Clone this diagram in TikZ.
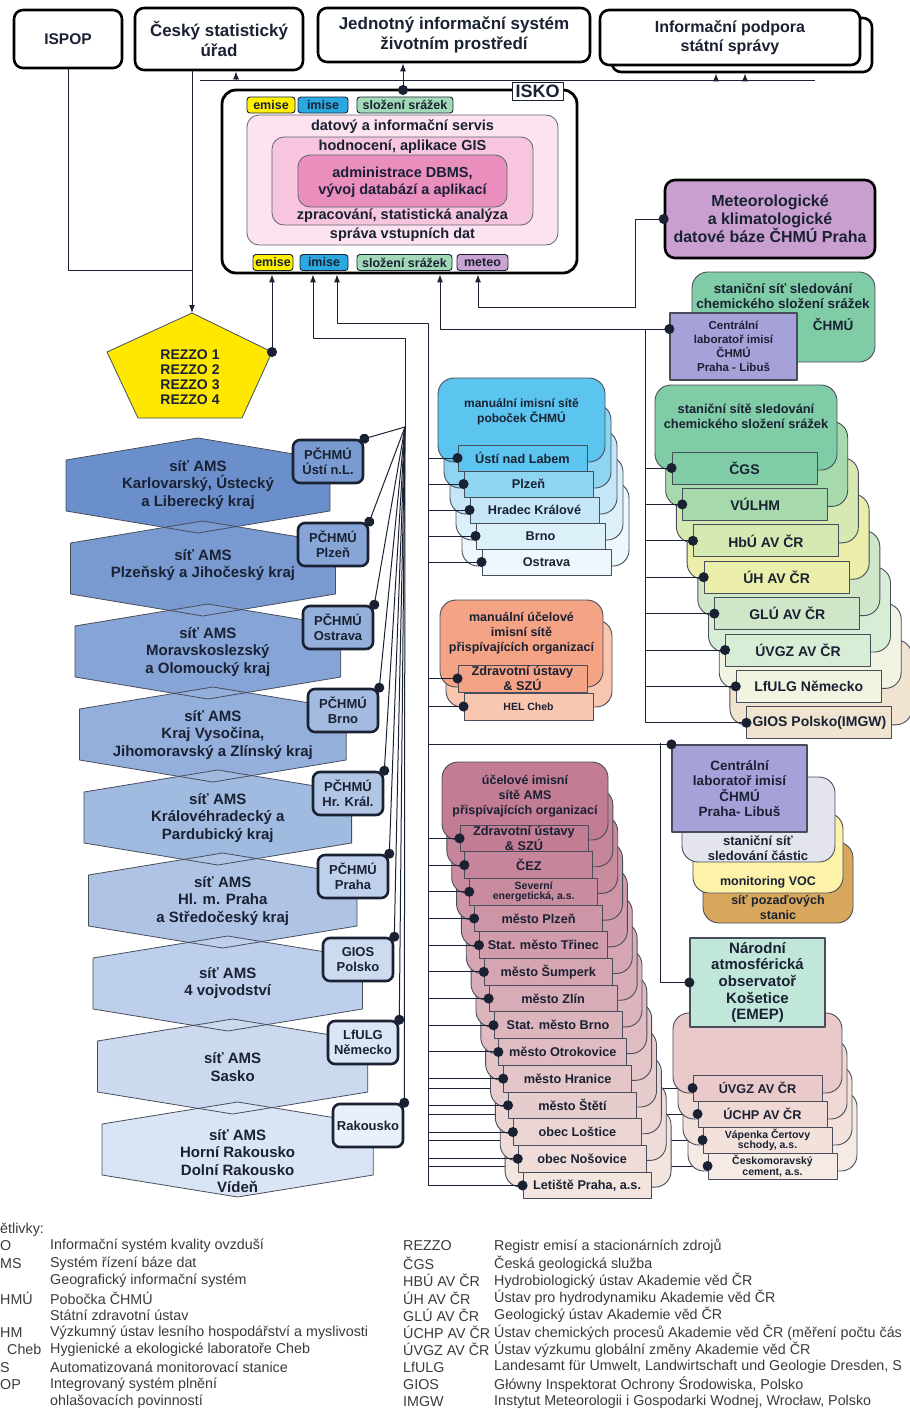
\documentclass[tikz,border=0pt]{standalone}
\usepackage{fontspec}
\setmainfont{Liberation Sans}
\newfontfamily\boldsans{Liberation Sans}
\usetikzlibrary{arrows.meta,backgrounds}
\newcommand\nbf[2]{\boldsans\bfseries\fontsize{#1}{#2}\selectfont}

\definecolor{ink}{HTML}{1A2133}
\definecolor{tagyel}{HTML}{FFF100}
\definecolor{tagblu}{HTML}{29A9E0}
\definecolor{taggrn}{HTML}{A2DAB8}
\definecolor{tagvio}{HTML}{C9A3D1}
\definecolor{pinkA}{HTML}{FDE3EF}
\definecolor{pinkB}{HTML}{F7C5DD}
\definecolor{pinkC}{HTML}{EA8EBE}
\definecolor{rezzo}{HTML}{FFE800}
\definecolor{hxD}{HTML}{6A8FCB}
\definecolor{hxL}{HTML}{E8F0FA}
\definecolor{blA}{HTML}{5BC5EF}
\definecolor{blB}{HTML}{8ED5F2}
\definecolor{blC}{HTML}{C4E6F6}
\definecolor{blD}{HTML}{DCF0FA}
\definecolor{blE}{HTML}{EEF7FC}
\definecolor{saA}{HTML}{F5A385}
\definecolor{saB}{HTML}{F9C6B0}
\definecolor{grA}{HTML}{80CCA6}
\definecolor{grB}{HTML}{A6DAAC}
\definecolor{grC}{HTML}{D7E9B2}
\definecolor{grD}{HTML}{EAEEA9}
\definecolor{grE}{HTML}{CFE7C8}
\definecolor{grF}{HTML}{D7EDD6}
\definecolor{grG}{HTML}{F0F4E0}
\definecolor{grH}{HTML}{F0E4D0}
\definecolor{muD}{HTML}{C27C94}
\definecolor{muL}{HTML}{F4E7E0}
\definecolor{lav}{HTML}{A7A1DA}
\definecolor{lilac}{HTML}{C99FD0}
\definecolor{mint}{HTML}{C0E7D9}
\definecolor{fog}{HTML}{E4E5EC}
\definecolor{voc}{HTML}{FDF3A8}
\definecolor{ochre}{HTML}{D9A75C}
\definecolor{roA}{HTML}{E9C9C9}
\definecolor{roB}{HTML}{F0D8D4}
\definecolor{roC}{HTML}{F3E2DB}
\definecolor{roD}{HTML}{F6EBE4}
\definecolor{legend}{HTML}{3A3A3A}

\tikzset{
  topbox/.style={draw=black, line width=2.6pt, rounded corners=9pt, fill=white, align=center, inner sep=0, text=ink, font=\nbf{17}{20}},
  iskobox/.style={draw=black, line width=2.8pt, rounded corners=14pt, fill=white},
  tag/.style={draw=ink, line width=0.9pt, rounded corners=3pt, inner sep=0, minimum height=16pt, text=ink, font=\nbf{12.5}{13}},
  layer/.style={draw=ink!70, line width=0.8pt, rounded corners=12pt},
  txt/.style={text=ink, align=center, inner sep=0, font=\nbf{#1}{15}},
  txt/.default=12.5,
  hexline/.style={draw=ink!80, line width=0.8pt},
  hextext/.style={text=ink, align=center, inner sep=0, font=\nbf{15}{17.5}},
  pbox/.style={draw=ink, line width=2.6pt, rounded corners=7pt, inner sep=0, minimum width=70pt, minimum height=43pt, align=center, text=ink, font=\nbf{13}{15}},
  card/.style={draw=ink!80, line width=0.9pt, rounded corners=16pt},
  item/.style={draw=ink!80, line width=0.9pt, inner sep=0, align=center, text=ink, font=\nbf{12.7}{13.5}},
  small/.style={font=\nbf{10.5}{10.5}},
  conn/.style={draw=ink, line width=1pt},
  dotend/.style={-{Circle[length=10pt]}, shorten >=-5pt},
  dotarr/.style={{Circle[length=10pt]}->, shorten <=-5pt},
  legtxt/.style={anchor=west, inner sep=0, text=legend, font=\fontsize{14.3}{16}\selectfont}
}

\begin{document}
\begin{tikzpicture}[x=1pt, y=-1pt, line join=round, >={Latex[length=8pt,width=6pt]}]
\useasboundingbox (0,0) rectangle (910,1416);
% body spojnic
\coordinate (jn) at (192,270);
\coordinate (rzT) at (192,313);
\coordinate (rzR) at (272,352);
\coordinate (fan) at (405,427);
\coordinate (fanA) at (313,338);
\coordinate (busB) at (428,323);
\coordinate (busBt) at (337,323);
\coordinate (busN) at (660,743);
\coordinate (rA) at (440,329);
\coordinate (rB) at (645,329);
\coordinate (mA) at (478,307);
\coordinate (mB) at (635,307);
\coordinate (iskoTop) at (403,90);
\coordinate (hl) at (200,80);
\coordinate (hr) at (815,80);
\coordinate (a1) at (236,80);
\coordinate (a3) at (716,80);
\coordinate (a4) at (745,80);

% horni systemy
\node[topbox, minimum width=108pt, minimum height=58pt, font=\nbf{15.5}{18}] (ispop) at (68,39) {ISPOP};
\node[topbox, minimum width=168pt, minimum height=62pt] (csu) at (219,39) {Český statistický\\úřad};
\node[topbox, minimum width=272pt, minimum height=54pt] (jis) at (454,35) {Jednotný informační systém\\životním prostředí};
\node[topbox, minimum width=260pt, minimum height=54pt] (podB) at (742,45) {};
\node[topbox, minimum width=260pt, minimum height=55pt, font=\nbf{16}{19}] (podA) at (730,37.5) {Informační podpora\\státní správy};

% ISKO
\node[iskobox, minimum width=355pt, minimum height=183pt] (isko) at (399.5,181.5) {};
\node[tag, fill=white, rounded corners=0pt, minimum width=51pt, minimum height=18pt, font=\nbf{18}{18}] (iskolbl) at (537.5,91.5) {ISKO};
\draw[layer, fill=pinkA] (247,115) rectangle (558,245);
\draw[layer, fill=pinkB] (272,137) rectangle (533,225);
\draw[layer, fill=pinkC] (298,155) rectangle (507,207);
\node[txt=14.5] (serv) at (402.5,126.5) {datový a informační servis};
\node[txt=14.5] (hodn) at (402.5,147) {hodnocení, aplikace GIS};
\node[txt=14.5, font=\nbf{14.5}{16.5}] (dbms) at (402.5,182) {administrace DBMS,\\vývoj databází a aplikací};
\node[txt=14.5] (zprac) at (402.5,216) {zpracování, statistická analýza};
\node[txt=14.5] (sprava) at (402.5,235) {správa vstupních dat};
\foreach \nm/\xx/\ww/\cl/\txt in {te/271/48/tagyel/emise, ti/323/50/tagblu/imise, ts/405/96/taggrn/složení srážek}
  \node[tag, fill=\cl, minimum width=\ww pt] (\nm) at (\xx,105) {\txt};
\foreach \nm/\xx/\ww/\cl/\txt in {be/273/40/tagyel/emise, bi/324/48/tagblu/imise, bs/404.5/95/taggrn/složení srážek, bm/482.5/51/tagvio/meteo}
  \node[tag, fill=\cl, minimum width=\ww pt] (\nm) at (\xx,262.5) {\txt};

% REZZO
\draw[hexline, fill=rezzo] (rzT) -- (107,352) -- (138,418) -- (242,418) -- (rzR) -- cycle;
\node[txt=14] (rezzotxt) at (190,377) {REZZO 1\\REZZO 2\\REZZO 3\\REZZO 4};

% site AMS
\foreach \i in {1,...,9}{
  \pgfmathsetmacro\hL{66+4.5*(\i-1)}
  \pgfmathsetmacro\hR{330+5.4*(\i-1)}
  \pgfmathsetmacro\hT{438+83*(\i-1)}
  \pgfmathsetmacro\hM{(\hL+\hR)/2}
  \pgfmathtruncatemacro\pc{100-11*(\i-1)}
  \fill[hxD!\pc!hxL] (\hM,\hT) -- (\hR,\hT+22) -- (\hR,\hT+73) -- (\hM,\hT+95) -- (\hL,\hT+73) -- (\hL,\hT+22) -- cycle;
}
\foreach \i/\txt/\ptx/\ty in {
  1/{síť AMS\\Karlovarský, Ústecký\\a Liberecký kraj}/{PČHMÚ\\Ústí n.L.}/485,
  2/{síť AMS\\Plzeňský a Jihočeský kraj}/{PČHMÚ\\Plzeň}/565,
  3/{síť AMS\\Moravskoslezský\\a Olomoucký kraj}/{PČHMÚ\\Ostrava}/652,
  4/{síť AMS\\Kraj Vysočina,\\Jihomoravský a Zlínský kraj}/{PČHMÚ\\Brno}/735,
  5/{síť AMS\\Královéhradecký a\\Pardubický kraj}/{PČHMÚ\\Hr. Král.}/818,
  6/{síť AMS\\Hl. m. Praha\\a Středočeský kraj}/{PČHMÚ\\Praha}/901,
  7/{síť AMS\\4 vojvodství}/{GIOS\\Polsko}/983,
  8/{síť AMS\\Sasko}/{LfULG\\Německo}/1067,
  9/{síť AMS\\Horní Rakousko\\Dolní Rakousko\\Vídeň}/{Rakousko}/1161}{
  \pgfmathsetmacro\hL{66+4.5*(\i-1)}
  \pgfmathsetmacro\hR{330+5.4*(\i-1)}
  \pgfmathsetmacro\hT{438+83*(\i-1)}
  \pgfmathsetmacro\hM{(\hL+\hR)/2}
  \pgfmathtruncatemacro\pq{max(100-11*(\i-1)-12,0)}
  \draw[hexline] (\hM,\hT) -- (\hR,\hT+22) -- (\hR,\hT+73) -- (\hM,\hT+95) -- (\hL,\hT+73) -- (\hL,\hT+22) -- cycle;
  \node[hextext] (h\i) at (\hM,\ty) {\txt};
  \node[pbox, fill=hxD!\pq!hxL] (p\i) at (323+5*\i,378.5+83*\i) {\ptx};
}

% manualni imisni site pobocek
\foreach \i/\cl in {4/blE,3/blD,2/blC,1/blB,0/blA}
  \draw[card, fill=\cl] (438+6*\i,378+26*\i) rectangle ++(167,84);
\node[txt=12] (mhead) at (521.5,412) {manuální imisní sítě\\poboček ČHMÚ};
\foreach \i/\cl/\txt in {1/blA/Ústí nad Labem,2/blB/Plzeň,3/blC/Hradec Králové,4/blD/Brno,5/blE/Ostrava}
  \node[item, fill=\cl, minimum width=129pt, minimum height=26pt] (m\i) at (516.5+6*\i,432+26*\i) {\txt};

% manualni ucelove site
\draw[card, fill=saB] (446,620) rectangle ++(166,87);
\draw[card, fill=saA] (440,600) rectangle ++(163,87);
\node[txt=12.5] (shead) at (521.5,633) {manuální účelové\\imisní sítě\\přispívajících organizací};
\node[item, fill=saA, minimum width=129pt, minimum height=27pt, font=\nbf{12.7}{12}] (s1) at (522.5,678.5) {Zdravotní ústavy\\\& SZÚ};
\node[item, fill=saB, minimum width=129pt, minimum height=27pt, small] (s2) at (528.5,706.5) {HEL Cheb};

% ucelove imisni site AMS
\foreach \i in {13,12,...,0}{
  \pgfmathtruncatemacro\pc{100-7.5*\i}
  \draw[card, fill=muD!\pc!muL] (442+4.85*\i,762+26.7*\i) rectangle ++(166,78);
}
\node[txt=12.5] (uhead) at (525,796) {účelové imisní\\sítě AMS\\přispívajících organizací};
\foreach \i/\st/\txt in {1/item/{Zdravotní ústavy\\\& SZÚ},2/item/ČEZ,3/small/{Severní\\energetická, a.s.},
  4/item/město Plzeň,5/item/Stat. město Třinec,6/item/město Šumperk,7/item/město Zlín,
  8/item/Stat. město Brno,9/item/město Otrokovice,10/item/město Hranice,11/item/město Štětí,
  12/item/obec Loštice,13/item/obec Nošovice,14/item/{Letiště Praha, a.s.}}{
  \pgfmathtruncatemacro\pc{100-7.5*(\i-1)}
  \node[item, \st, fill=muD!\pc!muL, minimum width=128pt, minimum height=26.7pt] (u\i) at (519.15+4.85*\i,811.65+26.7*\i) {\txt};
}

% meteorologicka databaze a chemicke slozeni srazek CHMU
\node[topbox, fill=lilac, rounded corners=10pt, minimum width=210pt, minimum height=78pt, font=\nbf{16}{17.5}] (meteo) at (770,219) {Meteorologické\\a klimatologické\\datové báze ČHMÚ Praha};
\draw[card, fill=grA] (692,272) rectangle (875,362);
\node[txt=13.5] (ghead) at (783,296) {staniční síť sledování\\chemického složení srážek};
\node[txt=13.5] (gchmu) at (833,325) {ČHMÚ};
\node[item, fill=lav, line width=1.2pt, minimum width=127pt, minimum height=67pt, font=\nbf{11.5}{13.8}] (cl1) at (733.5,346.5) {Centrální\\laboratoř imisí\\ČHMÚ\\Praha - Libuš};

% stanicni site slozeni srazek
\foreach \i/\cl in {7/grH,6/grG,5/grF,4/grE,3/grD,2/grC,1/grB,0/grA}
  \draw[card, fill=\cl] (655+10.7*\i,385+36.4*\i) rectangle ++(182,85);
\node[txt=12.8] (rhead) at (746,416) {staniční sítě sledování\\chemického složení srážek};
\foreach \i/\cl/\txt in {1/grA/ČGS,2/grB/VÚLHM,3/grC/HbÚ AV ČR,4/grD/ÚH AV ČR,5/grE/GLÚ AV ČR,6/grF/ÚVGZ AV ČR,7/grG/LfULG Německo,8/grH/GIOS Polsko(IMGW)}
  \node[item, fill=\cl, minimum width=145pt, minimum height=32pt, font=\nbf{14}{16}] (g\i) at (733.8+10.7*\i,431.6+36.4*\i) {\txt};

% centralni laborator, castice, VOC
\draw[card, fill=ochre] (703,842) rectangle (853,923);
\draw[card, fill=voc] (693,813) rectangle (843,893);
\draw[card, fill=fog] (682,777) rectangle (835,862);
\node[txt=13] (fogtxt) at (758,848) {staniční síť\\sledování částic};
\node[txt=12.5] (voctxt) at (768,882) {monitoring VOC};
\node[txt=12.5] (ochtxt) at (778,907) {síť pozaďových\\stanic};
\node[item, fill=lav, line width=1.2pt, minimum width=135pt, minimum height=87pt, font=\nbf{13.5}{15.5}] (cl2) at (739.5,788.5) {Centrální\\laboratoř imisí\\ČHMÚ\\Praha- Libuš};

% Kosetice
\foreach \i/\cl in {3/roD,2/roC,1/roB,0/roA}
  \draw[card, fill=\cl] (673+5*\i,1013+26*\i) rectangle ++(169,80);
\node[item, fill=mint, line width=1.2pt, minimum width=135pt, minimum height=89pt, font=\nbf{15}{16.6}] (narodni) at (757.5,982.5) {Národní\\atmosférická\\observatoř\\Košetice\\(EMEP)};
\foreach \i/\cl/\st/\txt in {1/roA/item/ÚVGZ AV ČR,2/roB/item/ÚCHP AV ČR,3/roC/small/{Vápenka Čertovy\\schody, a.s.},4/roD/small/{Českomoravský\\cement, a.s.}}
  \node[item, \st, fill=\cl, minimum width=129pt, minimum height=26pt] (k\i) at (752.5+5*\i,1062+26*\i) {\txt};

% spojnice
\draw[conn] (hl) -- (hr);
\draw[conn,->] (a1) -- (a1 |- csu.south);
\draw[conn,->] (a3) -- (a3 |- podB.south);
\draw[conn,->] (a4) -- (a4 |- podB.south);
\draw[conn,dotarr] (iskoTop) -- (iskoTop |- jis.south);
\draw[conn] (ispop.south) |- (jn);
\draw[conn,->] (rzT |- csu.south) -- (rzT);
\draw[conn,dotarr] (rzR) -- (rzR |- isko.south);
\draw[conn,->] (fan) |- (fanA) -- (fanA |- isko.south);
\foreach \i in {1,...,9}
  \draw[conn,dotend] (fan) -- (p\i.north east);
\draw[conn,->] (busB |- u14.west) -- (busB) -- (busBt) -- (busBt |- isko.south);
\foreach \i in {1,...,5}
  \draw[conn,dotend] (m\i.west -| busB) -- (m\i.west);
\foreach \i in {1,2}
  \draw[conn,dotend] (s\i.west -| busB) -- (s\i.west);
\foreach \i in {1,...,14}
  \draw[conn,dotend] (u\i.west -| busB) -- (u\i.west);
\draw[conn,dotend] (cl2.north west -| busB) -- (cl2.north west);
\draw[conn,dotend] (busN) |- (narodni.west);
\draw[conn,dotarr] (g8.west) -| (rB) -- (rA) -- (rA |- isko.south);
\draw[conn,dotend] (rB) -- (rB -| cl1.west);
\foreach \i in {1,...,7}
  \draw[conn,dotend] (g\i.west -| rB) -- (g\i.west);
\draw[conn,dotarr] (meteo.west) -| (mB) |- (mA) -- (mA |- isko.south);
\begin{pgfonlayer}{background}
  \foreach \i in {1,...,4}
    \draw[conn] (k\i.west -| busB) -- (k\i.west);
\end{pgfonlayer}
\foreach \i in {1,...,4}
  \fill[ink] (k\i.west) circle (5);

% vysvetlivky
\node[legtxt] (lgh) at (0,1230) {ětlivky:};
\foreach \k/\ab in {0/O,1/MS,3/HMÚ,5/HM,7/S,8/OP}
  \node[legtxt] (la\k) at (0,1246+17.3*\k) {\ab};
\node[legtxt] (la6) at (7,1349.8) {Cheb};
\foreach \k/\ds in {0/Informační systém kvality ovzduší,1/Systém řízení báze dat,2/Geografický informační systém,
  3/Pobočka ČHMÚ,4/Státní zdravotní ústav,5/Výzkumný ústav lesního hospodářství a myslivosti,
  6/Hygienické a ekologické laboratoře Cheb,7/Automatizovaná monitorovací stanice,
  8/Integrovaný systém plnění,9/ohlašovacích povinností}
  \node[legtxt] (ld\k) at (50,1246+17.3*\k) {\ds};
\foreach \k/\ab/\ds in {0/REZZO/Registr emisí a stacionárních zdrojů,1/ČGS/Česká geologická služba,
  2/HBÚ AV ČR/Hydrobiologický ústav Akademie věd ČR,3/ÚH AV ČR/Ústav pro hydrodynamiku Akademie věd ČR,
  4/GLÚ AV ČR/Geologický ústav Akademie věd ČR,5/ÚCHP AV ČR/Ústav chemických procesů Akademie věd ČR (měření počtu čás,
  6/ÚVGZ AV ČR/Ústav výzkumu globální změny Akademie věd ČR,7/LfULG/{Landesamt für Umwelt, Landwirtschaft und Geologie Dresden, S},
  8/GIOS/{Główny Inspektorat Ochrony Środowiska, Polsko},9/IMGW/{Instytut Meteorologii i Gospodarki Wodnej, Wrocław, Polsko}}{
  \node[legtxt] (ra\k) at (403,1246+17.3*\k) {\ab};
  \node[legtxt] (rd\k) at (494,1246+17.3*\k) {\ds};
}
\end{tikzpicture}
\end{document}
